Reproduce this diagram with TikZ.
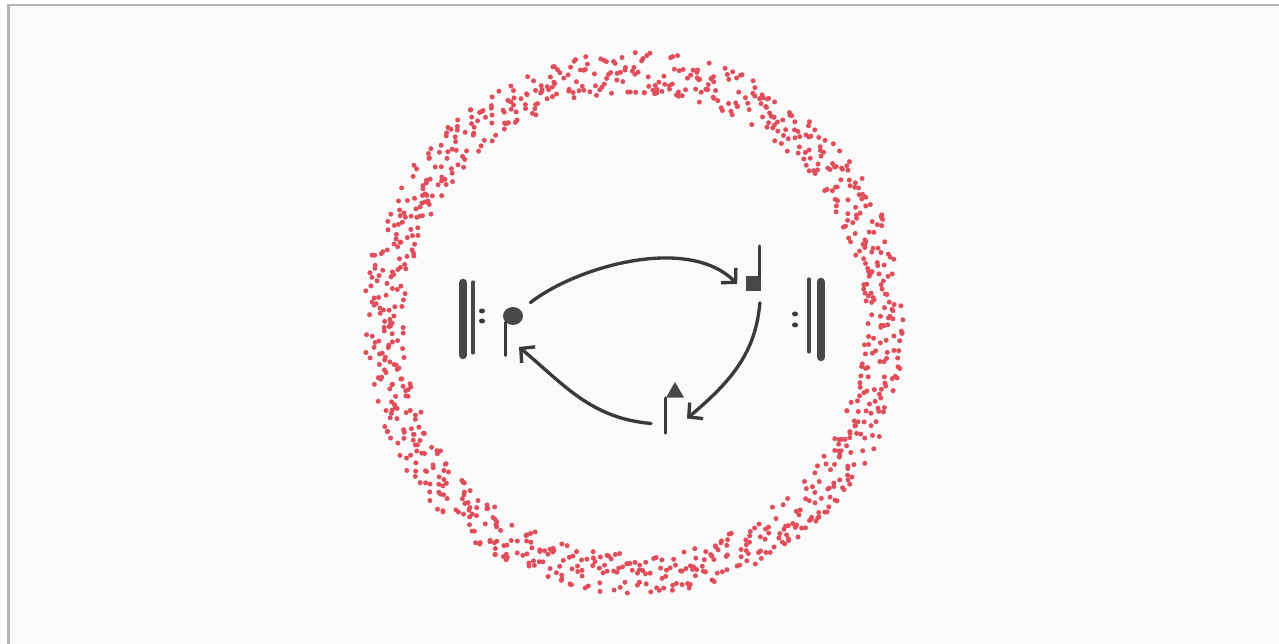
\documentclass[tikz,border=0pt]{standalone}
\usetikzlibrary{arrows.meta, shapes.geometric, calc}

\definecolor{nenGiay}{RGB}{250,250,250}
\definecolor{vienKhung}{RGB}{180,180,180}
\definecolor{mucDen}{RGB}{58,58,58}
\definecolor{mucXam}{RGB}{72,72,72}
\definecolor{chamDo}{RGB}{224,78,92}

\tikzset{
  net/.style={line width=1.9pt, mucDen, line cap=round},
  muiTen/.style={net, -{Straight Barb[length=0.2cm, width=0.42cm]}},
  vachDay/.style={line width=0.17cm, mucXam, line cap=round},
  vachMong/.style={line width=1.8pt, mucXam, line cap=round},
  dauNot/.style={fill=mucXam, draw=none, inner sep=0pt},
}

\begin{document}
\begin{tikzpicture}[x=0.02cm, y=0.02cm]

    % 1. Nền giấy và khung
    \useasboundingbox (0,0) rectangle (1279,644);
    \fill[white] (0,0) rectangle (1279,644);
    \fill[nenGiay] (9,0) rectangle (1279,639);
    \draw[vienKhung, line width=1.4pt] (8.5,0) -- (8.5,639) -- (1279,639);

    % 2. Vòng chấm đỏ quanh tâm (634, 321), rải đều theo góc
    \pgfmathsetseed{11}
    \foreach \i in {1,...,1000} {
        \pgfmathsetmacro\goc{0.36*\i+0.5*rand}
        \pgfmathsetmacro\bk{100*sqrt(5.29+2.05*rnd)}
        \fill[chamDo] (634,321) ++(\goc:\bk) circle[radius=2.5];
    }

    % 3. Dấu nhắc lại bên trái
    \draw[vachDay] (463,289) -- (463,361);
    \draw[vachMong] (473,291) -- (473,362);
    \fill[mucDen] (482,333) ellipse[x radius=3, y radius=2.5];
    \fill[mucDen] (482,323) ellipse[x radius=3, y radius=2.5];

    % Dấu nhắc lại bên phải
    \draw[vachMong] (809,292) -- (809,365);
    \draw[vachDay] (821,287) -- (821,362);
    \fill[mucDen] (795,330) ellipse[x radius=3, y radius=2.5];
    \fill[mucDen] (795,319) ellipse[x radius=3, y radius=2.5];

    % 4. Các nốt: tròn, vuông, tam giác
    \node[dauNot, ellipse, minimum width=0.40cm, minimum height=0.36cm] (tron) at (513,328) {};
    \draw[net] (tron.220) -- ++(0,-33);

    \node[dauNot, minimum size=0.30cm] (vuong) at (753,360) {};
    \draw[net] ([xshift=-0.6pt]vuong.north east) -- ++(0,30);

    \node[dauNot, regular polygon, regular polygon sides=3, minimum size=0.42cm] (tamGiac) at (675,251.5) {};
    \draw[net] (tamGiac.corner 2) -- ++(0,-35);

    % 5. Mũi tên vòng: tròn -> vuông -> tam giác -> tròn
    \draw[muiTen, shorten <=0.24cm] (tron.37)
        .. controls +(38:70) and +(135:70) .. ([xshift=-0.16cm]vuong.west);
    \draw[muiTen, shorten <=0.22cm] (vuong.south east)
        .. controls +(-95:60) and +(40:60) .. ($(tamGiac)+(12,-26)$);
    \draw[muiTen] ($(tamGiac)+(-24,-31)$)
        .. controls +(175:60) and +(-40:60) .. ($(tron)+(6,-31)$);

\end{tikzpicture}
\end{document}
